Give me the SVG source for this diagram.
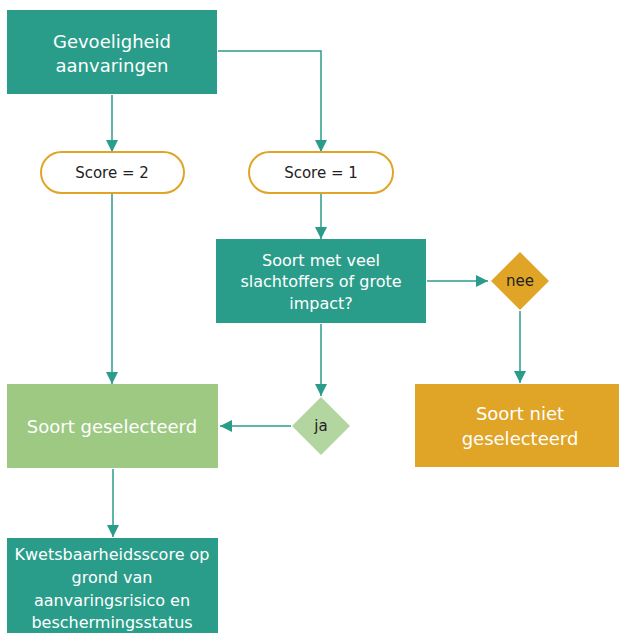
<svg xmlns="http://www.w3.org/2000/svg" width="619" height="633" viewBox="0 0 619 633">
<defs>
<marker id="ah" viewBox="0 0 10 10" refX="10" refY="5" markerWidth="12" markerHeight="12" markerUnits="userSpaceOnUse" orient="auto">
<path d="M0,0 L10,5 L0,10 z" fill="#2a9d8a"/>
</marker>
<style>
.teal{fill:#2a9d8a}
.lt{fill:#9dc983}
.org{fill:#e0a526}
.pill{fill:#fff;stroke:#e0a526;stroke-width:2}
.wt{fill:#fff;font-family:"DejaVu Sans",sans-serif;text-anchor:middle}
.dk{fill:#222;font-family:"DejaVu Sans",sans-serif;text-anchor:middle}
.c{fill:none;stroke:#2a9d8a;stroke-width:1.5;marker-end:url(#ah)}
</style>
</defs>
<g id="connectors">
<path class="c" d="M112,95 V152"/>
<path class="c" d="M218,51 H321 V152"/>
<path class="c" d="M321,194 V239"/>
<path class="c" d="M112,194 V384"/>
<path class="c" d="M427,281 H488"/>
<path class="c" d="M520,311 V383"/>
<path class="c" d="M321,324 V396"/>
<path class="c" d="M291,426 H220"/>
<path class="c" d="M113,469 V537"/>
</g>
<g id="gevoeligheid">
<rect class="teal" x="7" y="10" width="210" height="84"/>
<text class="wt" font-size="18" x="112" y="48">Gevoeligheid</text>
<text class="wt" font-size="18" x="112" y="72">aanvaringen</text>
</g>
<g id="score2">
<rect class="pill" x="41" y="152" width="143" height="41" rx="20.5"/>
<text class="dk" font-size="15" x="112" y="178">Score = 2</text>
</g>
<g id="score1">
<rect class="pill" x="249" y="152" width="144" height="41" rx="20.5"/>
<text class="dk" font-size="15" x="321" y="178">Score = 1</text>
</g>
<g id="soortvraag">
<rect class="teal" x="216" y="239" width="210" height="84"/>
<text class="wt" font-size="16" x="321" y="266">Soort met veel</text>
<text class="wt" font-size="16" x="321" y="287">slachtoffers of grote</text>
<text class="wt" font-size="16" x="321" y="309">impact?</text>
</g>
<g id="nee">
<polygon class="org" points="520,252 549,281 520,310 491,281"/>
<text class="dk" font-size="15" x="520" y="286">nee</text>
</g>
<g id="ja">
<polygon fill="#b3d5a0" points="321,397 350,426 321,455 292,426"/>
<text class="dk" font-size="15" x="321" y="431">ja</text>
</g>
<g id="geselecteerd">
<rect class="lt" x="7" y="384" width="211" height="84"/>
<text class="wt" font-size="18" x="112" y="433">Soort geselecteerd</text>
</g>
<g id="nietgeselecteerd">
<rect class="org" x="415" y="384" width="204" height="83"/>
<text class="wt" font-size="18" x="520" y="420">Soort niet</text>
<text class="wt" font-size="18" x="520" y="445">geselecteerd</text>
</g>
<g id="kwetsbaarheid">
<rect class="teal" x="7" y="538" width="211" height="95"/>
<text class="wt" font-size="16" x="112" y="560">Kwetsbaarheidsscore op</text>
<text class="wt" font-size="16" x="112" y="583">grond van</text>
<text class="wt" font-size="16" x="112" y="606">aanvaringsrisico en</text>
<text class="wt" font-size="16" x="112" y="628">beschermingsstatus</text>
</g>
</svg>
